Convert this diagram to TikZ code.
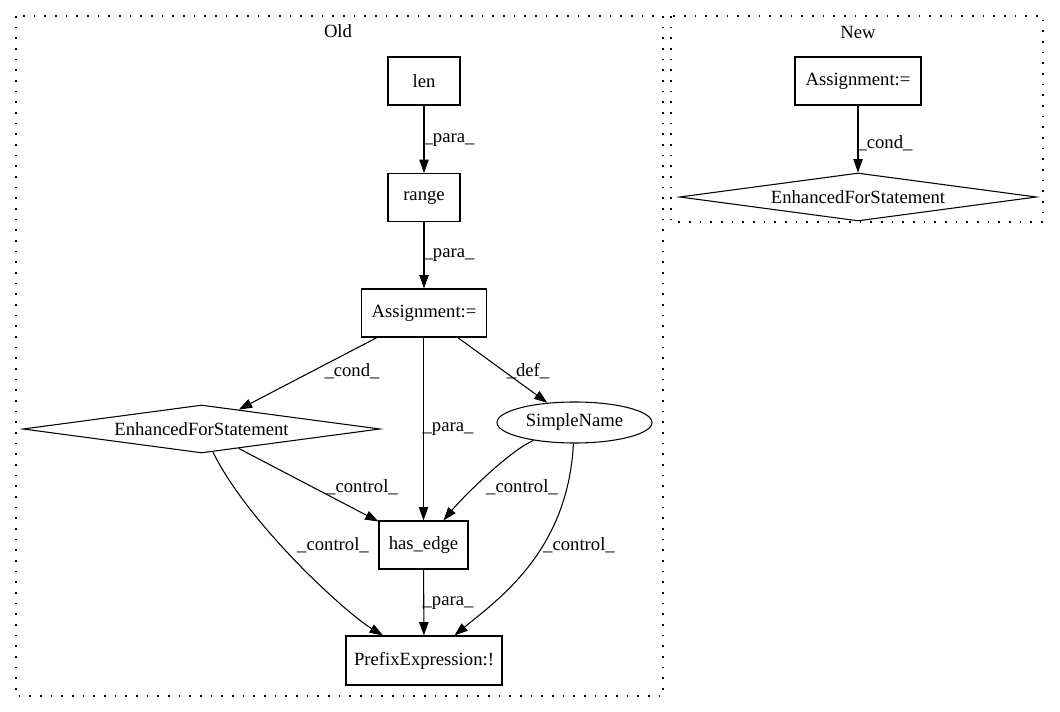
\documentclass[tikz,border=0pt]{standalone}
\usepackage{fontspec}
\setmainfont{Liberation Serif}
\usetikzlibrary{shapes.geometric,arrows.meta}
\begin{document}
\begin{tikzpicture}[x=0.75pt,y=-0.75pt,
  every node/.style={font=\fontsize{14pt}{16pt}\selectfont},
  box/.style={draw, line width=0.8pt, rectangle, inner sep=0pt},
  dia/.style={draw, shape=diamond, line width=0.8pt, inner sep=0pt, aspect=7},
  ell/.style={draw, ellipse, line width=0.8pt, inner sep=0pt},
  arr/.style={draw, line width=0.8pt, -{Triangle[length=10pt,width=7pt]}},
  lab/.style={inner sep=0pt},
  cluster/.style={draw, line width=1pt, dash pattern=on 1.2pt off 6.8pt}]
\useasboundingbox (0,0) rectangle (1060,712);

% clusters
\draw[cluster] (16,16) rectangle (663,696);
\node[lab] (oldlab) at (338,31) {Old};
\draw[cluster] (671,16) rectangle (1043,222);
\node[lab] (newlab) at (858,32) {New};

% nodes (Old)
\node[box, minimum width=54pt, minimum height=36pt] (len) at (424,81) {len};
\node[box, minimum width=54pt, minimum height=36pt] (range) at (424,197.5) {range};
\node[box, minimum width=93.75pt, minimum height=36pt] (asg) at (424,313) {Assignment:=};
\node[dia, minimum width=267.75pt, minimum height=36pt] (efs) at (201.5,429) {EnhancedForStatement};
\node[ell, minimum width=116.25pt, minimum height=30.75pt] (sn) at (574.5,422.5) {SimpleName};
\node[box, minimum width=66.75pt, minimum height=36pt] (he) at (423.5,545) {has\_edge};
\node[box, minimum width=117pt, minimum height=36.75pt] (pe) at (424,660.5) {PrefixExpression:!};

% nodes (New)
\node[box, minimum width=94.5pt, minimum height=36pt] (nasg) at (858,81) {Assignment:=};
\node[dia, minimum width=267.75pt, minimum height=36pt] (nefs) at (858,197) {EnhancedForStatement};

% edges (Old)
\draw[arr] (len) -- (range) node[lab] at (449,140) {\_para\_};
\draw[arr] (range) -- (asg) node[lab] at (449,255) {\_para\_};
\draw[arr] (asg) -- (efs) node[lab] at (352,371) {\_cond\_};
\draw[arr] (asg.south -| he.north) -- (he) node[lab] at (448,429) {\_para\_};
\draw[arr] (asg) -- (sn) node[lab] at (528,371) {\_def\_};
\draw[arr] (efs) -- (he) node[lab] at (362,487) {\_control\_};
\draw[arr] (sn) .. controls (507,452) and (458.6,502) .. (he) node[lab] at (522,487) {\_control\_};
\draw[arr] (efs) .. controls (249,525) and (346,613) .. (pe) node[lab] at (333,545) {\_control\_};
\draw[arr] (sn) .. controls (568,550) and (500,598) .. (pe) node[lab] at (579,545) {\_control\_};
\draw[arr] (he) -- (pe) node[lab] at (448,603) {\_para\_};

% edges (New)
\draw[arr] (nasg) -- (nefs) node[lab] at (885,143) {\_cond\_};
\end{tikzpicture}
\end{document}
